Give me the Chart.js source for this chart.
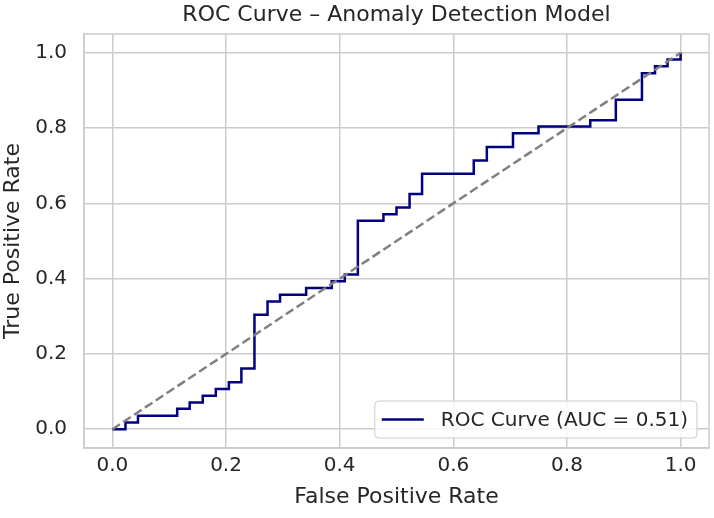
<!DOCTYPE html>
<html>
<head>
<meta charset="utf-8">
<script src="https://cdn.jsdelivr.net/npm/chart.js@4"></script>
<style>
  html, body { margin: 0; padding: 0; background: #ffffff; }
  #wrap { width: 714px; height: 518px; }
</style>
</head>
<body>
<div id="wrap"><canvas id="roc-chart" width="714" height="518"></canvas></div>
<script>
// ROC corner points
const fpr = [0, 0.023, 0.023, 0.045, 0.045, 0.114, 0.114, 0.136, 0.136, 0.159, 0.159, 0.182, 0.182,
  0.205, 0.205, 0.227, 0.227, 0.25, 0.25, 0.273, 0.273, 0.295, 0.295, 0.341, 0.341, 0.386, 0.386,
  0.409, 0.409, 0.432, 0.432, 0.477, 0.477, 0.5, 0.5, 0.523, 0.523, 0.545, 0.545, 0.636, 0.636,
  0.659, 0.659, 0.705, 0.705, 0.75, 0.75, 0.841, 0.841, 0.886, 0.886, 0.932, 0.932, 0.955, 0.955,
  0.977, 0.977, 1, 1];
const tpr = [0, 0, 0.018, 0.018, 0.036, 0.036, 0.054, 0.054, 0.071, 0.071, 0.089, 0.089, 0.107,
  0.107, 0.125, 0.125, 0.161, 0.161, 0.304, 0.304, 0.339, 0.339, 0.357, 0.357, 0.375, 0.375, 0.393,
  0.393, 0.411, 0.411, 0.554, 0.554, 0.571, 0.571, 0.589, 0.589, 0.625, 0.625, 0.679, 0.679, 0.714,
  0.714, 0.75, 0.75, 0.786, 0.786, 0.804, 0.804, 0.821, 0.821, 0.875, 0.875, 0.946, 0.946, 0.964,
  0.964, 0.982, 0.982, 1];
const chanceX = [0, 1];
const chanceY = [0, 1];
const xTicks = [0, 0.2, 0.4, 0.6, 0.8, 1.0];
const yTicks = [0, 0.2, 0.4, 0.6, 0.8, 1.0];
const rocLabel = 'ROC Curve (AUC = 0.51)';
const chartTitle = 'ROC Curve \u2013 Anomaly Detection Model';

const FONT = 'DejaVu Sans';
const TEXT = '#262626';
const GRID = '#cccccc';

function toPoints(xs, ys) {
    return xs.map((x, i) => ({ x: x, y: ys[i] }));
}

// full frame round the axes, title over the plot area, legend box in the lower right
const decorPlugin = {
    id: 'decor',
    beforeDatasetsDraw(chart) {
        const ctx = chart.ctx;
        const a = chart.chartArea;
        ctx.save();
        ctx.strokeStyle = GRID;
        ctx.lineWidth = 1.5;
        ctx.strokeRect(a.left, a.top, a.right - a.left, a.bottom - a.top);
        ctx.restore();
    },
    afterDraw(chart) {
        const ctx = chart.ctx;
        const area = chart.chartArea;
        ctx.save();
        ctx.fillStyle = TEXT;
        ctx.font = '22px "' + FONT + '"';
        ctx.textAlign = 'center';
        ctx.textBaseline = 'middle';
        ctx.fillText(chartTitle, (area.left + area.right) / 2, 15);

        ctx.font = '20px "' + FONT + '"';
        const tw = ctx.measureText(rocLabel).width;
        const w = tw + 75;
        const h = 37;
        const x = area.right - 12 - w;
        const y = area.bottom - 10 - h;
        ctx.beginPath();
        ctx.roundRect(x, y, w, h, 4);
        ctx.fillStyle = 'rgba(255,255,255,0.8)';
        ctx.fill();
        ctx.strokeStyle = GRID;
        ctx.lineWidth = 1;
        ctx.stroke();

        ctx.beginPath();
        ctx.moveTo(x + 7, y + h / 2);
        ctx.lineTo(x + 49, y + h / 2);
        ctx.strokeStyle = '#000080';
        ctx.lineWidth = 2.5;
        ctx.stroke();

        ctx.fillStyle = TEXT;
        ctx.textAlign = 'left';
        ctx.fillText(rocLabel, x + 66, y + h / 2 + 1);
        ctx.restore();
    }
};

const ctx = document.getElementById('roc-chart').getContext('2d');
const rocChart = new Chart(ctx, {
    type: 'line',
    data: {
        datasets: [{
            label: 'Chance',
            data: toPoints(chanceX, chanceY),
            borderColor: '#808080',
            borderWidth: 2.5,
            borderDash: [9, 4],
            pointRadius: 0,
            tension: 0
        }, {
            label: rocLabel,
            data: toPoints(fpr, tpr),
            borderColor: '#000080',
            borderWidth: 2.5,
            pointRadius: 0,
            tension: 0
        }]
    },
    options: {
        responsive: false,
        animation: false,
        layout: {
            padding: { left: 0, right: 5, top: 34, bottom: 0 }
        },
        scales: {
            x: {
                type: 'linear',
                min: -0.05,
                max: 1.05,
                afterBuildTicks: axis => { axis.ticks = xTicks.map(v => ({ value: v })); },
                afterFit: axis => { axis.height = 70; },
                ticks: {
                    font: { family: FONT, size: 20 },
                    color: TEXT,
                    padding: 6,
                    callback: v => v.toFixed(1)
                },
                grid: { color: GRID, lineWidth: 1.5, drawTicks: false },
                border: { color: GRID, width: 1.5 },
                title: {
                    display: true,
                    text: 'False Positive Rate',
                    font: { family: FONT, size: 22 },
                    color: TEXT,
                    padding: { top: 0, bottom: 8 }
                }
            },
            y: {
                type: 'linear',
                min: -0.05,
                max: 1.05,
                afterBuildTicks: axis => { axis.ticks = yTicks.map(v => ({ value: v })); },
                afterFit: axis => { axis.width = 84; },
                ticks: {
                    font: { family: FONT, size: 20 },
                    color: TEXT,
                    padding: 17,
                    callback: v => v.toFixed(1)
                },
                grid: { color: GRID, lineWidth: 1.5, drawTicks: false },
                border: { color: GRID, width: 1.5 },
                title: {
                    display: true,
                    text: 'True Positive Rate',
                    font: { family: FONT, size: 22 },
                    color: TEXT,
                    padding: { top: 0, bottom: 0 }
                }
            }
        },
        plugins: {
            legend: { display: false },
            title: { display: false },
            tooltip: { enabled: false }
        }
    },
    plugins: [decorPlugin]
});
</script>
</body>
</html>
